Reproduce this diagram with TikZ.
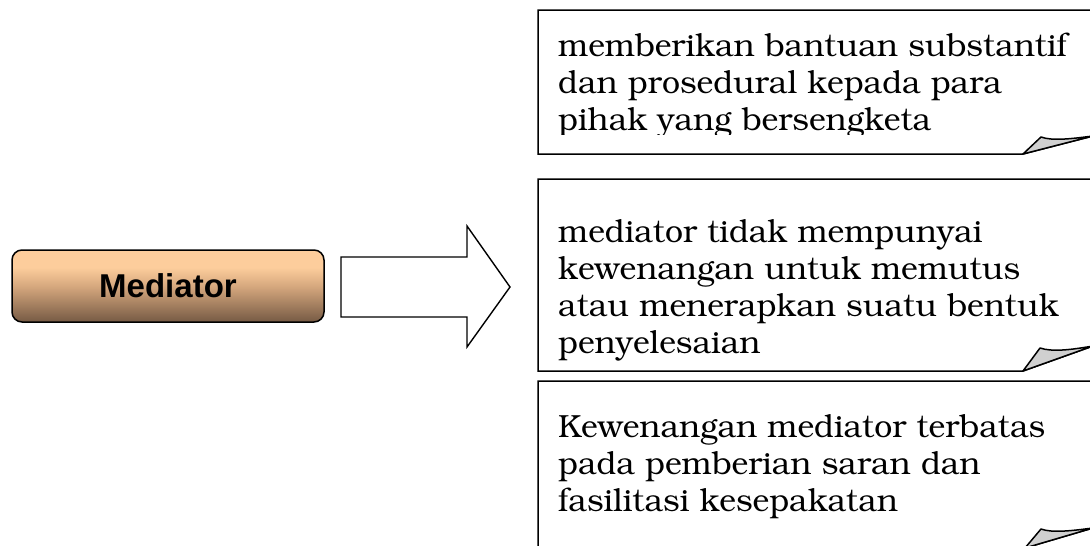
\documentclass[tikz,border=0pt]{standalone}
\usepackage[T1]{fontenc}
\usepackage{fontspec}
\newfontfamily\medfont{Liberation Sans}
\newcommand\bkfont{\fontencoding{T1}\fontfamily{pbk}\selectfont}
\definecolor{medtop}{RGB}{253,205,156}
\definecolor{medmid}{RGB}{214,168,126}
\definecolor{medbot}{RGB}{118,90,68}
\definecolor{foldgray}{RGB}{208,208,208}
\pgfdeclareverticalshading{medshade}{100bp}{color(0bp)=(medbot); color(25bp)=(medbot); color(50bp)=(medmid); color(63bp)=(medtop); color(100bp)=(medtop)}
\tikzset{
  medbox/.style={draw, line width=1.5pt, rounded corners=10pt, minimum width=312pt,
    minimum height=72pt, shading=medshade, inner sep=0pt,
    font=\medfont\bfseries\fontsize{33}{40}\selectfont},
  blockarrow/.style={draw, line width=1.4pt, fill=white},
  frame/.style={draw, line width=1.5pt, fill=white},
  fold/.style={draw, line width=1.5pt, fill=foldgray, line join=round},
  txt/.style={anchor=base west, inner sep=0pt, font=\bkfont\fontsize{32}{38}\selectfont}
}
\begin{document}
\begin{tikzpicture}[x=1pt,y=-1pt]
\useasboundingbox (0,0) rectangle (1090,546);
% Mediator box
\node[medbox] (med) at (168,286) {Mediator};
% block arrow
\draw[blockarrow] (341,257) -- (467,257) -- (467,226) -- (510,287) -- (467,347) -- (467,317) -- (341,317) -- cycle;
% Box 1
\draw[frame] (538,10) -- (1093,10) -- (1093,136) -- (1023,154) -- (538,154) -- cycle;
\draw[fold] (1023,154) -- (1041,137) .. controls (1052,141) and (1070,139) .. (1093,136) -- cycle;
\begin{scope}
\clip (538,10) rectangle (1090,134);
\node[txt] (a1) at (558,56) {memberikan bantuan substantif};
\node[txt] (a2) at (558,93) {dan prosedural kepada para};
\node[txt] (a3) at (558,130) {pihak yang bersengketa};
\end{scope}
% Box 2
\draw[frame] (538,179) -- (1093,179) -- (1093,346) -- (1023,371) -- (538,371) -- cycle;
\draw[fold] (1023,371) -- (1040,348) .. controls (1052,352) and (1070,350) .. (1093,346) -- cycle;
\node[txt] (b1) at (558,242) {mediator tidak mempunyai};
\node[txt] (b2) at (558,279) {kewenangan untuk memutus};
\node[txt] (b3) at (558,316) {atau menerapkan suatu bentuk};
\node[txt] (b4) at (558,353) {penyelesaian};
% Box 3
\draw[frame] (538,381) -- (1093,381) -- (1093,528) -- (1025,548) -- (538,548) -- cycle;
\draw[fold] (1025,548) -- (1041,529) .. controls (1052,533) and (1070,531) .. (1093,528) -- cycle;
\node[txt] (c1) at (558,437) {Kewenangan mediator terbatas};
\node[txt] (c2) at (558,474) {pada pemberian saran dan};
\node[txt] (c3) at (558,511) {fasilitasi kesepakatan};
\end{tikzpicture}
\end{document}
